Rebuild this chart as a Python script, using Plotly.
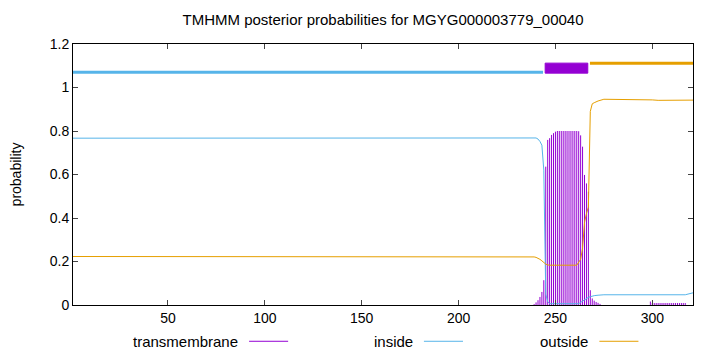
import plotly.graph_objects as go

# ---------------- data ----------------
tm_res = [239, 240, 241, 242, 243, 244, 245, 246, 247, 248, 249, 250,
          251, 252, 253, 254, 255, 256, 257, 258, 259, 260, 261, 262,
          263, 264, 265, 266, 267, 268, 269, 270, 271, 272, 273,
          299, 300, 301, 302, 303, 304, 305, 306, 307, 308, 309, 310,
          311, 312, 313, 314, 315, 316, 317]
tm_prob = [0.004, 0.012, 0.022, 0.037, 0.060, 0.114, 0.636, 0.759, 0.767, 0.782, 0.790, 0.797,
           0.800, 0.800, 0.800, 0.800, 0.800, 0.800, 0.800, 0.800, 0.800, 0.800, 0.800, 0.799,
           0.780, 0.728, 0.598, 0.559, 0.521, 0.068, 0.030, 0.020, 0.014, 0.010, 0.005,
           0.016, 0.009, 0.009, 0.009, 0.009, 0.009, 0.009, 0.009, 0.009, 0.009, 0.009, 0.009,
           0.009, 0.009, 0.009, 0.009, 0.009, 0.009, 0.009]

inside_res = [1, 160, 170, 238, 239, 240, 241, 242, 243, 244, 245, 246, 247, 261, 262,
              263, 264, 265, 266, 267, 268, 269, 270, 272, 275, 317, 319, 321]
inside_prob = [0.767, 0.767, 0.770, 0.770, 0.770, 0.768, 0.763, 0.752, 0.735, 0.620, 0.050,
               0.015, 0.006, 0.004, 0.006, 0.012, 0.018, 0.025, 0.030, 0.035, 0.038, 0.041,
               0.043, 0.045, 0.047, 0.047, 0.052, 0.056]

outside_res = [1, 100, 200, 238, 239, 240, 241, 242, 243, 244, 245, 246, 247, 261, 262,
               263, 264, 265, 266, 267, 268, 269, 270, 272, 275, 297, 300, 303, 321]
outside_prob = [0.223, 0.223, 0.222, 0.222, 0.221, 0.219, 0.215, 0.210, 0.203, 0.195, 0.188,
                0.184, 0.183, 0.183, 0.195, 0.210, 0.260, 0.380, 0.420, 0.450, 0.890, 0.925,
                0.930, 0.938, 0.946, 0.946, 0.943, 0.941, 0.942]

# predicted topology segments (start, end, kind)
topo_start = [1, 244.7, 267.8]
topo_end = [243.6, 266.7, 321]
topo_kind = ["inside", "TMhelix", "outside"]
topo_level = {"inside": 1.07, "outside": 1.111}
tm_box_low, tm_box_high = 1.066, 1.112

x_ticks = [50, 100, 150, 200, 250, 300]
y_ticks = [0, 0.2, 0.4, 0.6, 0.8, 1, 1.2]
y_tick_labels = ["0", "0.2", "0.4", "0.6", "0.8", "1", "1.2"]

title_text = "TMHMM posterior probabilities for MGYG000003779_00040"

C_TM = "#9400D3"
C_IN = "#56B4E9"
C_OUT = "#E69F00"
FONT = "Liberation Sans, Arial, sans-serif"

fig = go.Figure()

# transmembrane impulses
imp_x, imp_y = [], []
for r, p in zip(tm_res, tm_prob):
    imp_x += [r, r, None]
    imp_y += [0, p, None]
fig.add_trace(go.Scatter(x=imp_x, y=imp_y, mode="lines",
                         line=dict(color=C_TM, width=1), showlegend=False,
                         hoverinfo="skip"))

fig.add_trace(go.Scatter(x=inside_res, y=inside_prob, mode="lines",
                         line=dict(color=C_IN, width=1), showlegend=False))
fig.add_trace(go.Scatter(x=outside_res, y=outside_prob, mode="lines",
                         line=dict(color=C_OUT, width=1), showlegend=False))

# topology bars on top
for s, e, k in zip(topo_start, topo_end, topo_kind):
    if k == "TMhelix":
        fig.add_trace(go.Scatter(x=[s, e, e, s, s],
                                 y=[tm_box_low, tm_box_low, tm_box_high, tm_box_high, tm_box_low],
                                 mode="lines", fill="toself", fillcolor=C_TM,
                                 line=dict(color=C_TM, width=1), showlegend=False))
    else:
        col = C_IN if k == "inside" else C_OUT
        fig.add_trace(go.Scatter(x=[s, e], y=[topo_level[k]] * 2, mode="lines",
                                 line=dict(color=col, width=3), showlegend=False))

# gnuplot-style legend (text then sample line) below plot
legend_items = [("transmembrane", C_TM, 0.269), ("inside", C_IN, 0.551), ("outside", C_OUT, 0.834)]
for name, col, xr in legend_items:
    fig.add_annotation(text=name, xref="paper", yref="paper", x=xr, y=-0.139,
                       xanchor="right", yanchor="middle", showarrow=False,
                       font=dict(family=FONT, size=15, color="#000"))
    fig.add_shape(type="line", xref="paper", yref="paper", x0=xr + 0.015, x1=xr + 0.078,
                  y0=-0.139, y1=-0.139, line=dict(color=col, width=1))

axis_common = dict(showline=True, linecolor="black", linewidth=1, mirror="allticks",
                   ticks="inside", ticklen=5, tickcolor="#444", tickwidth=1,
                   showgrid=False, zeroline=False,
                   tickfont=dict(family=FONT, size=14, color="#000"))

fig.update_layout(
    width=720, height=352,
    margin=dict(l=73, r=27, t=44, b=47),
    paper_bgcolor="white", plot_bgcolor="white",
    title=dict(text=title_text, x=0.532, xanchor="center", y=1 - 20 / 352, yanchor="middle",
               font=dict(family=FONT, size=15, color="#000")),
    xaxis=dict(range=[1, 321], tickvals=x_ticks, **axis_common),
    yaxis=dict(range=[0, 1.2], tickvals=y_ticks, ticktext=y_tick_labels,
               title=dict(text="probability", standoff=24,
                          font=dict(family=FONT, size=14, color="#000")),
               **axis_common),
    showlegend=False,
)

fig.write_html("out.html")
